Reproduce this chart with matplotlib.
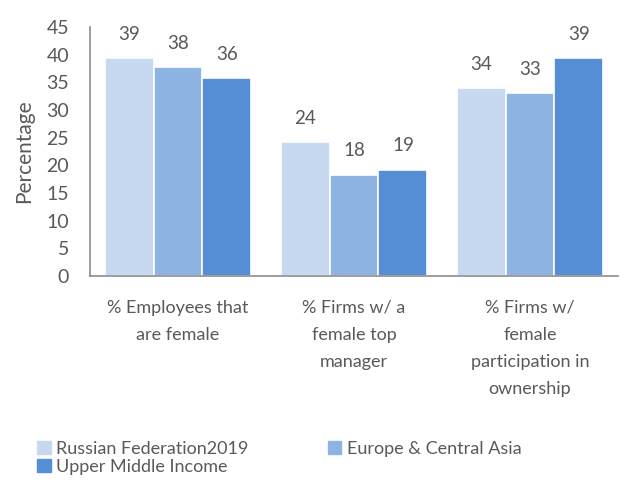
import numpy as np
import matplotlib
matplotlib.use("Agg")
import matplotlib.pyplot as plt
from matplotlib.patches import Patch

# ---------------------------------------------------------------------------
# Data
# ---------------------------------------------------------------------------
categories = [
    "% Employees that\nare female",
    "% Firms w/ a\nfemale top\nmanager",
    "% Firms w/\nfemale\nparticipation in\nownership",
]
series_names = ["Russian Federation2019", "Europe & Central Asia", "Upper Middle Income"]
russia = [39.4, 24.2, 34.0]
eca = [37.7, 18.3, 33.0]
umi = [35.7, 19.2, 39.4]
y_ticks = [0, 5, 10, 15, 20, 25, 30, 35, 40, 45]

colors = ["#C6D9F1", "#8DB4E2", "#558ED5"]
text_color = "#595959"

plt.rcParams["font.family"] = ["Lato", "DejaVu Sans"]

fig = plt.figure(figsize=(6.35, 4.83), dpi=100)
ax = fig.add_axes([90 / 635, 1 - 276 / 483, 528 / 635, 249 / 483])

x = np.arange(len(categories))
width = 0.278
for k, (vals, name) in enumerate(zip([russia, eca, umi], series_names)):
    pos = x + (k - 1) * width
    bars = ax.bar(pos, vals, width, color=colors[k], edgecolor="white",
                  linewidth=1.2, label=name)
    for b, v in zip(bars, vals):
        ax.annotate(f"{v:.0f}", (b.get_x() + b.get_width() / 2, v),
                    xytext=(0, 11), textcoords="offset points",
                    ha="center", va="bottom", fontsize=13.5, color=text_color)

ax.set_xlim(-0.5, len(categories) - 0.5)
ax.set_ylim(0, 45)
ax.set_yticks(y_ticks)
ax.set_xticks(x)
ax.set_xticklabels(categories, fontsize=13, color=text_color, linespacing=1.85)
ax.tick_params(axis="y", labelsize=14, labelcolor=text_color, length=0, pad=15)
ax.tick_params(axis="x", length=0, pad=17)
ax.set_ylabel("Percentage", fontsize=15, color=text_color, labelpad=9)

for side in ["top", "right"]:
    ax.spines[side].set_visible(False)
for side in ["left", "bottom"]:
    ax.spines[side].set_color("#8C8C8C")
    ax.spines[side].set_linewidth(1.2)

# legend: row-major order like Excel -> reorder for column-major fill
handles = [Patch(color=c, label=n) for c, n in zip(colors, series_names)]
order = [0, 2, 1]
fig.legend([handles[i] for i in order], [series_names[i] for i in order],
           ncol=2, loc="upper left", bbox_to_anchor=(28 / 635, 1 - 432 / 483),
           frameon=False, fontsize=13, labelcolor=text_color,
           handlelength=0.75, handleheight=0.75, handletextpad=0.3,
           columnspacing=4.4, labelspacing=0.1, borderpad=0)

fig.savefig("out.png", dpi=100)
